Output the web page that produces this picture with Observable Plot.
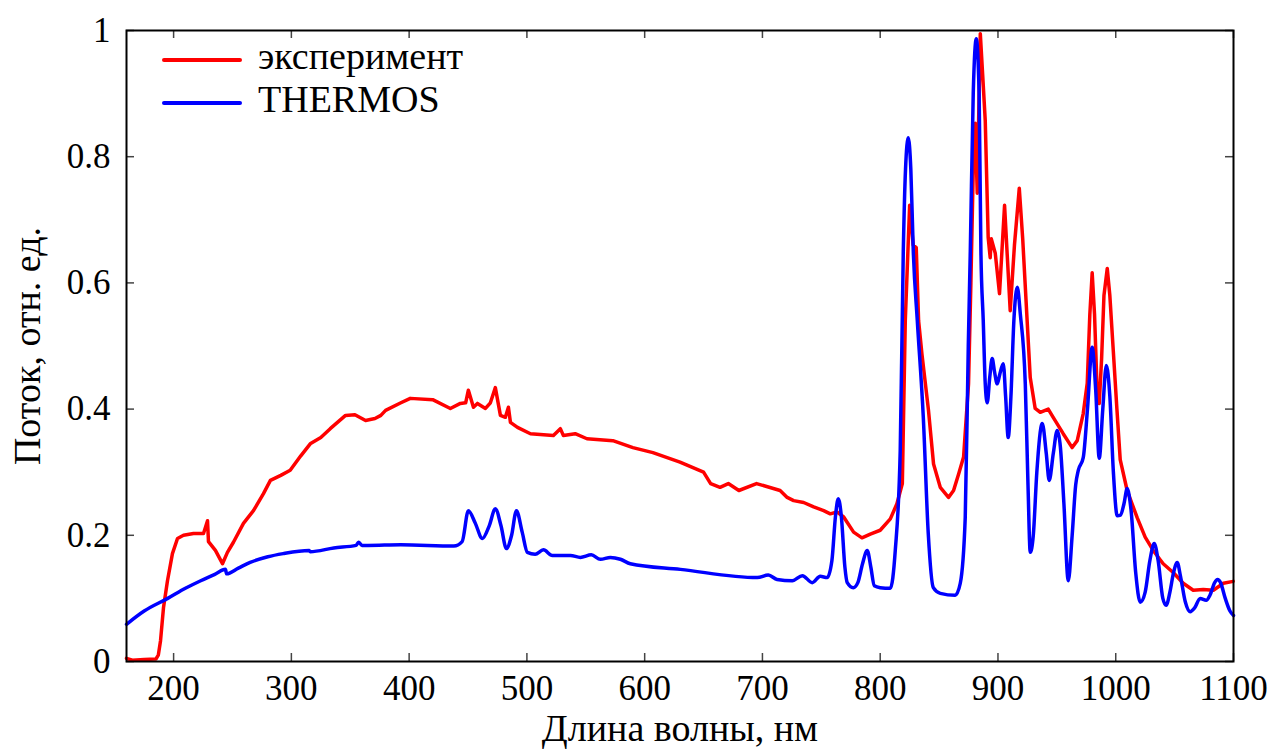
<!DOCTYPE html>
<html>
<head>
<meta charset="utf-8">
<script src="https://cdn.jsdelivr.net/npm/d3@7"></script>
<script src="https://cdn.jsdelivr.net/npm/@observablehq/plot@0.6"></script>
<style>
  html, body { margin: 0; padding: 0; background: #fff; }
  #wrap { position: relative; width: 1273px; height: 751px; }
  .leg { position: absolute; font-family: "Liberation Serif", serif; font-size: 38px; color: #000; line-height: 1; white-space: nowrap; }
  .legline { position: absolute; height: 4px; border-radius: 2px; }
</style>
</head>
<body>
<div id="wrap"></div>
<script>
// ---- Data (wavelength nm, relative flux) ----
const seriesNames = ["эксперимент", "THERMOS"];
const seriesColors = ["#ff0000", "#0000ff"];

const experiment = [
  [160,0.005],[165,0.002],[175,0.003],[185,0.004],[187,0.01],[188.9,0.033],[191.4,0.085],[194.8,0.128],
  [199,0.171],[203.3,0.195],[208.4,0.2],[216.9,0.203],[225.4,0.203],[228.8,0.223],[229.6,0.19],
  [235.5,0.176],[241.5,0.155],[245.7,0.173],[250.8,0.189],[259.3,0.219],[267.8,0.239],[276.3,0.266],
  [282.2,0.287],[291,0.295],[299,0.303],[308,0.326],[316,0.345],[325,0.355],[333,0.369],[346,0.39],
  [354,0.391],[363,0.382],[371,0.385],[376,0.39],[380,0.398],[393,0.41],[401,0.417],[420,0.415],
  [435,0.401],[443.5,0.409],[448,0.41],[450.3,0.43],[454.6,0.403],[458,0.409],[464.8,0.401],[469,0.41],
  [473.2,0.434],[477.5,0.39],[481.7,0.387],[484.3,0.403],[486,0.379],[492,0.371],[503,0.361],
  [522.5,0.358],[528.4,0.369],[531,0.358],[541,0.361],[551,0.353],[573,0.35],[590,0.339],[607,0.331],
  [630,0.316],[650,0.3],[656,0.282],[664,0.276],[671,0.282],[680,0.271],[695,0.282],[715,0.271],
  [721,0.26],[726.5,0.255],[735,0.252],[743.5,0.245],[752,0.239],[757.6,0.234],[763.3,0.237],[769,0.229],
  [777.4,0.205],[784.5,0.196],[791.6,0.202],[800,0.208],[808.6,0.226],[814.2,0.25],[818.8,0.282],
  [821.3,0.54],[825,0.723],[828,0.66],[830.6,0.656],[832.6,0.54],[835.4,0.488],[841,0.398],[845.3,0.313],
  [851,0.276],[858,0.26],[862.3,0.271],[866.6,0.297],[870.8,0.324],[875,0.44],[877,0.6],[879,0.78],
  [880.7,0.853],[882.4,0.742],[883.5,0.85],[885,0.995],[887,0.93],[889.2,0.857],[891.7,0.672],
  [893.4,0.64],[894.3,0.67],[897.7,0.647],[901.3,0.583],[905.6,0.723],[910.4,0.556],[914,0.66],
  [918.1,0.75],[921,0.67],[924.6,0.546],[927.4,0.45],[931.6,0.401],[935.9,0.395],[942.7,0.4],
  [946.9,0.387],[955.4,0.361],[963,0.339],[967.3,0.35],[972.4,0.393],[975.8,0.441],[978,0.55],
  [980,0.616],[982,0.55],[984,0.44],[986,0.409],[988,0.48],[990,0.58],[992.8,0.623],[995,0.58],
  [997.9,0.493],[1001,0.4],[1003.8,0.32],[1009.7,0.271],[1018.2,0.228],[1025,0.197],[1031.8,0.176],
  [1040.3,0.155],[1048.8,0.141],[1057.3,0.124],[1065.8,0.113],[1074.3,0.114],[1082.9,0.113],
  [1091.4,0.124],[1099.7,0.127]
];

const thermos = [
  [160,0.059],[175,0.08],[195,0.1],[210,0.116],[223,0.128],[235,0.138],[244,0.146],[245,0.139],
  [255,0.148],[265,0.157],[280,0.166],[293,0.171],[315,0.176],[316,0.174],[336,0.18],[355,0.184],
  [357,0.189],[360,0.184],[365,0.184],[393,0.185],[438,0.183],[445,0.19],[450.3,0.239],[456,0.22],
  [462.2,0.195],[468,0.215],[473.2,0.242],[478,0.215],[482.6,0.179],[487,0.2],[491.1,0.239],[496,0.205],
  [500.4,0.173],[507,0.17],[514,0.177],[521.6,0.168],[537,0.168],[545.4,0.165],[554.7,0.169],
  [562.4,0.162],[570.9,0.165],[579.4,0.162],[587.8,0.155],[630.3,0.146],[695.7,0.133],[705,0.137],
  [712.4,0.13],[725.4,0.128],[733.9,0.136],[742.3,0.125],[749.1,0.135],[755,0.133],[759,0.16],
  [762,0.23],[764.4,0.258],[767,0.23],[770,0.15],[772,0.125],[777.2,0.117],[781,0.125],[785,0.155],
  [789,0.176],[792,0.15],[795,0.12],[800,0.117],[808.6,0.116],[812.8,0.176],[817,0.334],[819.6,0.65],
  [821.5,0.78],[823.8,0.83],[826,0.78],[828.1,0.65],[831.5,0.54],[836.6,0.387],[840.8,0.203],
  [845.1,0.117],[851,0.108],[863.7,0.105],[868,0.124],[872.2,0.228],[874.8,0.5],[876.5,0.65],
  [879,0.9],[881.6,0.987],[884,0.9],[885.5,0.65],[887.5,0.54],[889.2,0.44],[890.9,0.41],[893,0.45],
  [895.1,0.48],[897,0.46],[899.4,0.44],[901.5,0.455],[904.5,0.472],[906.5,0.42],[908.7,0.355],
  [911,0.42],[913.5,0.54],[916.4,0.593],[919,0.55],[923.2,0.44],[925.5,0.28],[927.4,0.173],[930,0.2],
  [933,0.3],[937.6,0.377],[941,0.33],[943.5,0.287],[947,0.33],[950.3,0.366],[953,0.34],[956,0.25],
  [959.7,0.128],[963,0.2],[966,0.28],[968.2,0.303],[972.4,0.323],[976,0.4],[980,0.498],[983,0.43],
  [986,0.322],[989,0.4],[992,0.469],[995,0.42],[998,0.3],[1001.3,0.231],[1004,0.232],[1007,0.25],
  [1009.7,0.274],[1013,0.24],[1017,0.14],[1020.8,0.094],[1025,0.11],[1029,0.16],[1032.7,0.187],
  [1036,0.16],[1040,0.1],[1042.8,0.089],[1046,0.11],[1049,0.14],[1052.2,0.157],[1055,0.135],
  [1059,0.095],[1063.2,0.079],[1067,0.085],[1071.7,0.1],[1076.8,0.097],[1080,0.105],[1084,0.125],
  [1086.4,0.13],[1089,0.125],[1093,0.1],[1097,0.08],[1100,0.073]
];

const xTicks = [200, 300, 400, 500, 600, 700, 800, 900, 1000, 1100];
const yTicks = [0, 0.2, 0.4, 0.6, 0.8, 1];
const yTickLabels = ["0", "0.2", "0.4", "0.6", "0.8", "1"];
const xLabel = "Длина волны, нм";
const yLabel = "Поток, отн. ед.";

const toRows = arr => arr.map(([x, y]) => ({x, y}));

// layout
const W = 1273, H = 751, mL = 126, mR = 40, mT = 30, mB = 90;
const innerW = W - mL - mR, innerH = H - mT - mB, tickLen = 8;
const tickStyle = {stroke: "#444", strokeWidth: 1.5};

const chart = Plot.plot({
  width: W,
  height: H,
  marginLeft: mL,
  marginRight: mR,
  marginTop: mT,
  marginBottom: mB,
  style: {fontFamily: "'Liberation Serif', serif", fontSize: "35px", color: "#000", background: "#fff", overflow: "visible"},
  x: {domain: [160, 1100]},
  y: {domain: [0, 1]},
  marks: [
    // inward ticks on all four sides
    Plot.tickX(xTicks, {x: d => d, insetTop: innerH - tickLen, ...tickStyle}),
    Plot.tickX(xTicks, {x: d => d, insetBottom: innerH - tickLen, ...tickStyle}),
    Plot.tickY(yTicks, {y: d => d, insetRight: innerW - tickLen, ...tickStyle}),
    Plot.tickY(yTicks, {y: d => d, insetLeft: innerW - tickLen, ...tickStyle}),
    Plot.axisX({ticks: xTicks, anchor: "bottom", tickSize: 0, tickPadding: 14,
      tickFormat: d => String(d), label: null}),
    Plot.axisY({ticks: yTicks, anchor: "left", tickSize: 0, tickPadding: 16,
      tickFormat: d => yTickLabels[yTicks.indexOf(d)], label: null}),
    Plot.axisX({anchor: "bottom", ticks: [], label: xLabel, labelAnchor: "center", labelOffset: 79, labelArrow: "none", fontSize: 38}),
    Plot.axisY({anchor: "left", ticks: [], label: yLabel, labelAnchor: "center", labelOffset: 113, labelArrow: "none", fontSize: 38}),
    Plot.line(toRows(experiment), {x: "x", y: "y", stroke: seriesColors[0], strokeWidth: 3.5, strokeLinejoin: "round"}),
    Plot.line(toRows(thermos), {x: "x", y: "y", stroke: seriesColors[1], strokeWidth: 3.5, curve: "monotone-x"}),
    Plot.frame({stroke: "#000", strokeWidth: 2})
  ]
});

const wrap = document.getElementById("wrap");
wrap.appendChild(chart);

// Legend (inside plot area, top-left)
seriesNames.forEach((name, i) => {
  const top = 60 + i * 43;
  const ln = document.createElement("div");
  ln.className = "legline";
  ln.style.left = "162px";
  ln.style.width = "80px";
  ln.style.top = (top - 2) + "px";
  ln.style.background = seriesColors[i];
  wrap.appendChild(ln);
  const t = document.createElement("div");
  t.className = "leg";
  t.textContent = name;
  t.style.left = "258px";
  t.style.top = (top - 23) + "px";
  wrap.appendChild(t);
});
</script>
</body>
</html>
